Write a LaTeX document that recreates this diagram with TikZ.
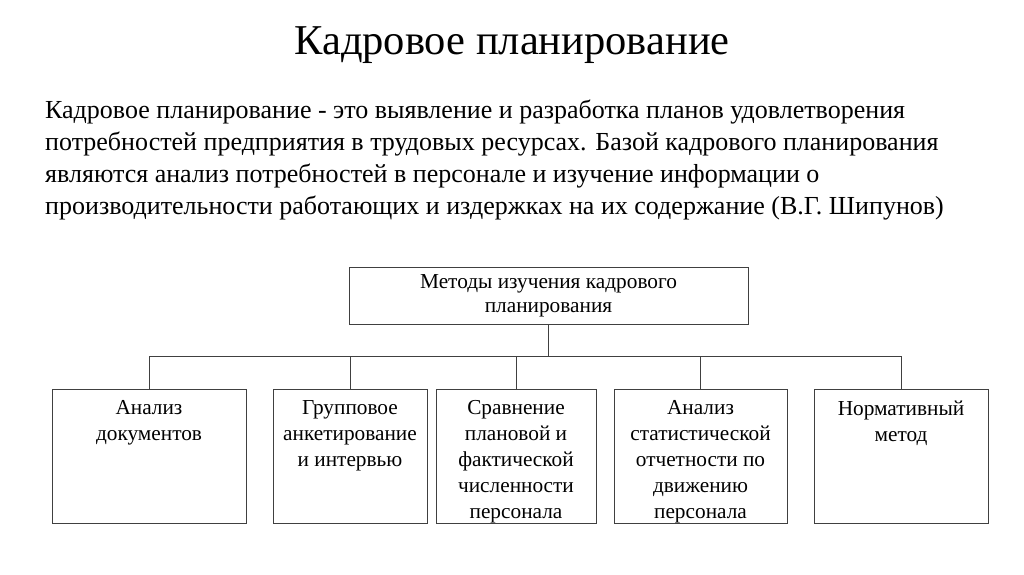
\documentclass[tikz,border=0pt]{standalone}
\usepackage{fontspec}
\setmainfont{Liberation Serif}
\usepackage{tikz}

\tikzset{
    method/.style={draw=black!75, line width=1pt, minimum height=134pt, inner sep=0pt},
    mtext/.style={anchor=north, align=center, inner sep=0pt, yshift=-12pt,
        font={\fontsize{21.3}{26}\selectfont}},
}

\begin{document}
\begin{tikzpicture}[x=1pt, y=-1pt]
        \useasboundingbox [fill=white] (0, 0) rectangle (1024, 574);

        \node (title) at (512, 54) [anchor=base, font={\fontsize{42.5}{50}\selectfont}] {Кадровое планирование};

        \node (defn) at (45, 100) [anchor=north west, align=left, inner sep=0pt,
            font={\fontsize{26}{32}\selectfont}]
            {Кадровое планирование - это выявление и разработка планов удовлетворения\\
             потребностей предприятия в трудовых ресурсах. Базой кадрового планирования\\
             являются анализ потребностей в персонале и изучение информации о\\
             производительности работающих и издержках на их содержание (В.Г. Шипунов)};

        \node (top) at (548.5, 295.5) [draw=black!75, line width=1pt, minimum width=399pt,
            minimum height=57pt, align=center, font={\fontsize{21.3}{24}\selectfont}]
            {Методы изучения кадрового\\планирования};

        \node (b1) at (149, 456) [method, minimum width=194pt] {};
        \node (b2) at (350, 456) [method, minimum width=154pt] {};
        \node (b3) at (516, 456) [method, minimum width=160pt] {};
        \node (b4) at (700.5, 456) [method, minimum width=173pt] {};
        \node (b5) at (901, 456) [method, minimum width=174pt] {};

        \node (t1) at (b1.north) [mtext] {Анализ\\документов};
        \node (t2) at (b2.north) [mtext] {Групповое\\анкетирование\\и интервью};
        \node (t3) at (b3.north) [mtext] {Сравнение\\плановой и\\фактической\\численности\\персонала};
        \node (t4) at (b4.north) [mtext] {Анализ\\статистической\\отчетности по\\движению\\персонала};
        \node (t5) at (b5.north) [mtext] {Нормативный\\метод};

        \coordinate (bus) at (548.5, 356);
        \draw [draw=black!75, line width=1pt] (top.south) -- (bus);

        \foreach \b in {b1, b2, b3, b4, b5}
            {\draw [draw=black!75, line width=1pt] (bus) -| (\b.north);}
    \end{tikzpicture}
\end{document}
